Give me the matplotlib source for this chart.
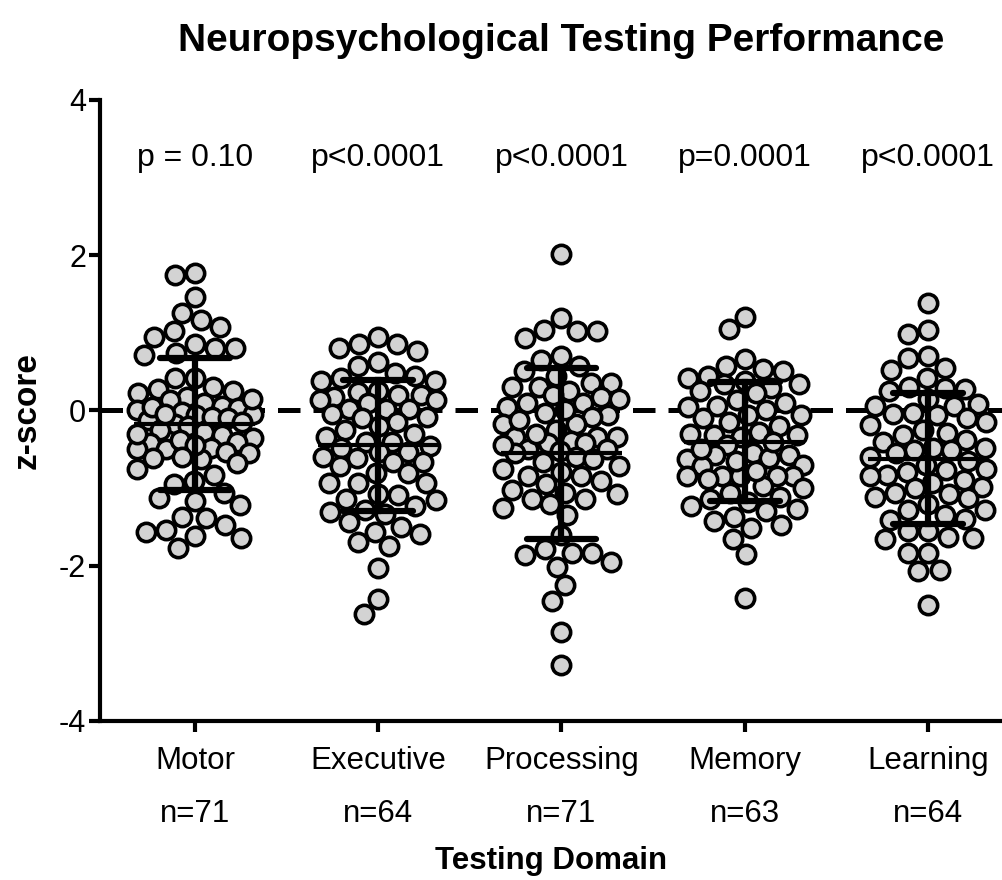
import numpy as np
import matplotlib.pyplot as plt

plt.rcParams['font.family'] = ['Liberation Sans', 'DejaVu Sans']

# data
domains = ['Motor', 'Executive', 'Processing', 'Memory', 'Learning']
n_labels = ['n=71', 'n=64', 'n=71', 'n=63', 'n=64']
p_labels = ['p = 0.10', 'p<0.0001', 'p<0.0001', 'p=0.0001', 'p<0.0001']

motor = [1.77, 1.74, 1.46, 1.26, 1.16, 1.07, 1.02, 0.95, 0.85, 0.80, 0.80, 0.74, 0.72,
         0.42, 0.42, 0.30, 0.28, 0.25, 0.22, 0.18, 0.13, 0.09,
         0.06, 0.03, 0.0, -0.02, -0.04, -0.06, -0.09, -0.10, -0.12, -0.15, -0.18, -0.20,
         -0.25, -0.28, -0.32, -0.35, -0.40, -0.42, -0.48, -0.50, -0.50, -0.53, -0.55,
         -0.61, -0.63, -0.68,
         -0.76, -0.83, -0.91, -0.95, -1.06, -1.13, -1.17, -1.22,
         -1.37, -1.39, -1.48, -1.54, -1.57, -1.62, -1.64, -1.77,
         0.15, 0.05, -0.05, -0.30, -0.38, -0.45, -0.60]
executive = [0.95, 0.85, 0.85, 0.81, 0.77, 0.62, 0.57, 0.48, 0.44, 0.42, 0.38, 0.38,
             0.25, 0.24, 0.20, 0.20, 0.18, 0.13, 0.13, 0.09,
             0.02, 0.02, 0.02, -0.04, -0.09, -0.10,
             -0.25, -0.34, -0.40, -0.40, -0.46, -0.48, -0.53, -0.53,
             -0.61, -0.66, -0.67, -0.80, -0.80, -0.93, -0.93, -0.94,
             -1.08, -1.09, -1.14, -1.15, -1.23, -1.28, -1.31, -1.33,
             -1.44, -1.50, -1.56, -1.59, -1.70, -1.75,
             -2.03, -2.43, -2.62,
             -0.15, -0.20, -0.30, -0.60, -0.72]
processing = [2.02, 1.19, 1.04, 1.03, 1.02, 0.93, 0.70, 0.65, 0.57, 0.51,
              0.36, 0.36, 0.30, 0.30, 0.25, 0.18, 0.15, 0.09, 0.09, 0.05,
              -0.03, -0.06, -0.09, -0.17, -0.17, -0.25,
              -0.34, -0.34, -0.34, -0.39, -0.42, -0.42, -0.50, -0.50, -0.52, -0.55, -0.60,
              -0.67, -0.71, -0.79, -0.85, -0.85, -0.91,
              -1.02, -1.06, -1.08, -1.14, -1.14, -1.21, -1.25, -1.35,
              -1.61, -1.78, -1.83, -1.84, -1.86, -1.95, -2.01, -2.25, -2.45, -2.86, -3.28,
              0.45, 0.20, 0.0, -0.12, -0.30, -0.45, -0.62, -0.75, -0.95]
memory = [1.21, 1.05, 0.66, 0.57, 0.53, 0.51, 0.42, 0.38, 0.34, 0.34, 0.29, 0.22,
          0.14, 0.06, 0.04, -0.06, -0.06, -0.15,
          -0.28, -0.30, -0.32, -0.32, -0.34, -0.45,
          -0.55, -0.57, -0.57, -0.61, -0.62, -0.70, -0.72,
          -0.84, -0.85, -0.85, -0.85, -0.85, -0.88, -0.97,
          -1.06, -1.12, -1.14, -1.18, -1.23, -1.27, -1.29, -1.37,
          -1.43, -1.47, -1.52, -1.65, -1.85, -2.41,
          0.45, 0.25, 0.10, 0.0, -0.10, -0.20, -0.40, -0.50, -0.65, -0.78, -1.00]
learning = [1.38, 1.04, 0.98, 0.70, 0.67, 0.55, 0.52, 0.42, 0.30, 0.29, 0.28, 0.25,
            0.08, 0.06, 0.06, -0.03, -0.04, -0.06, -0.19,
            -0.29, -0.32, -0.38, -0.40, -0.48, -0.48, -0.51, -0.51,
            -0.75, -0.77, -0.79, -0.83, -0.84, -0.93, -0.98,
            -1.06, -1.08, -1.12, -1.13, -1.28, -1.28,
            -1.40, -1.41, -1.55, -1.55, -1.63, -1.64, -1.66,
            -1.84, -1.84, -2.05, -2.07, -2.50,
            0.15, -0.10, -0.25, -0.60, -0.65, -0.70, -0.90, -1.00, -1.20, -1.35, -0.55, -0.15]
groups = [motor, executive, processing, memory, learning]

means = [-0.17, -0.45, -0.55, -0.40, -0.62]
sds = [0.85, 0.84, 1.10, 0.77, 0.84]


def swarm(yvals, d, half, sx, sy):
    # beeswarm offsets in pixel space, kept within +-half px;
    # when the band is full, take the least crowded spot
    order = np.argsort(yvals)[::-1]
    grid = np.arange(-half, half + 0.1, 1.0)
    grid = grid[np.lexsort((grid, np.abs(grid)))]
    px, py = [], []
    xs = np.zeros(len(yvals))
    for i in order:
        yp = yvals[i] * sy
        if px:
            dist = np.sqrt((grid[:, None] - np.array(px)[None, :]) ** 2
                           + (yp - np.array(py)[None, :]) ** 2).min(axis=1)
            free = np.where(dist >= d)[0]
            c = grid[free[0]] if len(free) else grid[np.argmax(dist)]
        else:
            c = 0.0
        xs[i] = c / sx
        px.append(c)
        py.append(yp)
    return xs


fig = plt.figure(figsize=(10.03, 8.8), dpi=100)
ax = fig.add_axes([0.0997, 0.1807, 0.9003, 0.7057])
ax.set_xlim(-0.518, 4.409)
ax.set_ylim(-4, 4)

# pixels per data unit
sx = (ax.transData.transform((1, 0)) - ax.transData.transform((0, 0)))[0]
sy = (ax.transData.transform((0, 1)) - ax.transData.transform((0, 0)))[1]

ax.axhline(0, color='black', lw=3.6, ls=(0, (4.5, 2.6)), zorder=1)

for i, vals in enumerate(groups):
    vals = np.array(vals)
    xo = swarm(vals, 20, 58, sx, sy)
    ax.plot(i + xo, vals, 'o', ms=13.2, mfc='#d3d3d3', mec='black', mew=2.6,
            ls='none', zorder=2)
    m, s = means[i], sds[i]
    ax.plot([i - 0.33, i + 0.33], [m, m], color='black', lw=3, zorder=3,
            solid_capstyle='butt')
    ax.plot([i, i], [m - s, m + s], color='black', lw=4.5, zorder=3)
    for yy in (m - s, m + s):
        ax.plot([i - 0.19, i + 0.19], [yy, yy], color='black', lw=4.5, zorder=3,
                solid_capstyle='round')
    ax.text(i, 3.25, p_labels[i], ha='center', va='center', fontsize=23)

ax.set_xticks(range(5))
ax.set_xticklabels([f'{d}\n{n}' for d, n in zip(domains, n_labels)],
                   fontsize=22.5, linespacing=2.0)
ax.set_yticks([-4, -2, 0, 2, 4])
ax.set_yticklabels(['-4', '-2', '0', '2', '4'], fontsize=22)
ax.tick_params(axis='both', width=3, length=8, direction='out')
ax.tick_params(axis='x', pad=10)
ax.tick_params(axis='y', pad=2)

for side in ('top', 'right'):
    ax.spines[side].set_visible(False)
for side in ('left', 'bottom'):
    ax.spines[side].set_linewidth(3)

ax.set_ylabel('z-score', fontsize=24, fontweight='bold', labelpad=12)
ax.set_xlabel('Testing Domain', fontsize=22.5, fontweight='bold', labelpad=12)
fig.text(0.56, 0.953, 'Neuropsychological Testing Performance', ha='center',
         va='center', fontsize=28, fontweight='bold')

fig.savefig('out.png', dpi=100)
